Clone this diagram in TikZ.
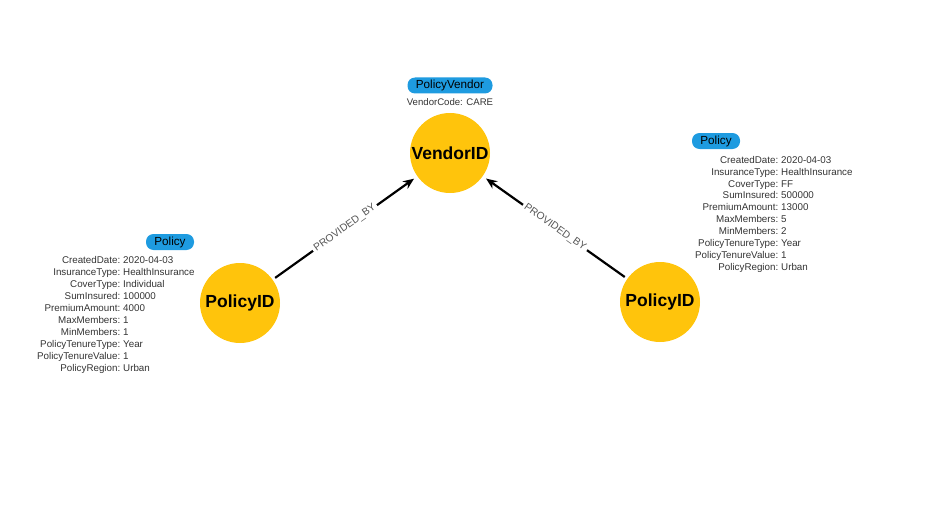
\documentclass[tikz,border=0pt]{standalone}
\usepackage{fontspec}
\setmainfont{Liberation Sans}
\usetikzlibrary{arrows.meta}
\definecolor{nodeyellow}{HTML}{FFC40C}
\definecolor{pillblue}{HTML}{1E9BE0}
\definecolor{proptext}{HTML}{333333}
\definecolor{edgetext}{HTML}{555555}
\tikzset{
  entity/.style={circle,fill=nodeyellow,minimum size=80pt,inner sep=0pt,
    font=\fontsize{17.5}{20}\selectfont\bfseries,text=black},
  pill/.style={rounded corners=7.5pt,fill=pillblue,minimum height=16pt,
    inner sep=0pt,font=\fontsize{11.7}{14}\selectfont,text=black},
  propkey/.style={anchor=base east,inner sep=0pt,text=proptext,
    font=\fontsize{9.8}{12}\selectfont},
  propval/.style={anchor=base west,inner sep=0pt,text=proptext,
    font=\fontsize{9.8}{12}\selectfont},
  rel/.style={line width=2.2pt,-{Stealth[length=11pt,width=9pt]},shorten <=3pt,shorten >=4pt},
  rellabel/.style={midway,sloped,fill=white,inner sep=2.5pt,text=edgetext,
    font=\fontsize{10.3}{12}\selectfont}
}
\begin{document}
\begin{tikzpicture}[x=1pt,y=-1pt]
\useasboundingbox (0,0) rectangle (938,511);
% nodes
\node[entity] (vendor) at (450,153) {VendorID};
\node[entity] (pleft) at (240,303) {PolicyID};
\node[entity] (pright) at (660,302) {PolicyID};
% captions
\node[pill,minimum width=85pt] (vlabel) at (450,85.5) {PolicyVendor};
\node[anchor=base,inner sep=0pt,text=proptext,font=\fontsize{9.6}{12}\selectfont] (vprop) at (450,106) {VendorCode: CARE};
\node[pill,minimum width=48pt] (llabel) at (170,242) {Policy};
\node[pill,minimum width=48pt] (rlabel) at (716,141) {Policy};
% left properties
\foreach [count=\i] \k/\v in {CreatedDate/2020-04-03,InsuranceType/HealthInsurance,CoverType/Individual,SumInsured/100000,PremiumAmount/4000,MaxMembers/1,MinMembers/1,PolicyTenureType/Year,PolicyTenureValue/1,PolicyRegion/Urban}{
  \node[propkey] (lk\i) at (120.5,{263.5+11.95*(\i-1)}) {\k:};
  \node[propval] (lv\i) at (123,{263.5+11.95*(\i-1)}) {\v};
}
% right properties
\foreach [count=\i] \k/\v in {CreatedDate/2020-04-03,InsuranceType/HealthInsurance,CoverType/FF,SumInsured/500000,PremiumAmount/13000,MaxMembers/5,MinMembers/2,PolicyTenureType/Year,PolicyTenureValue/1,PolicyRegion/Urban}{
  \node[propkey] (rk\i) at (778.5,{163.2+11.9*(\i-1)}) {\k:};
  \node[propval] (rv\i) at (781,{163.2+11.9*(\i-1)}) {\v};
}
% relationships
\draw[rel] (pleft) -- node[rellabel] {PROVIDED\_BY} (vendor);
\draw[rel] (pright) -- node[rellabel] {PROVIDED\_BY} (vendor);
\end{tikzpicture}
\end{document}
